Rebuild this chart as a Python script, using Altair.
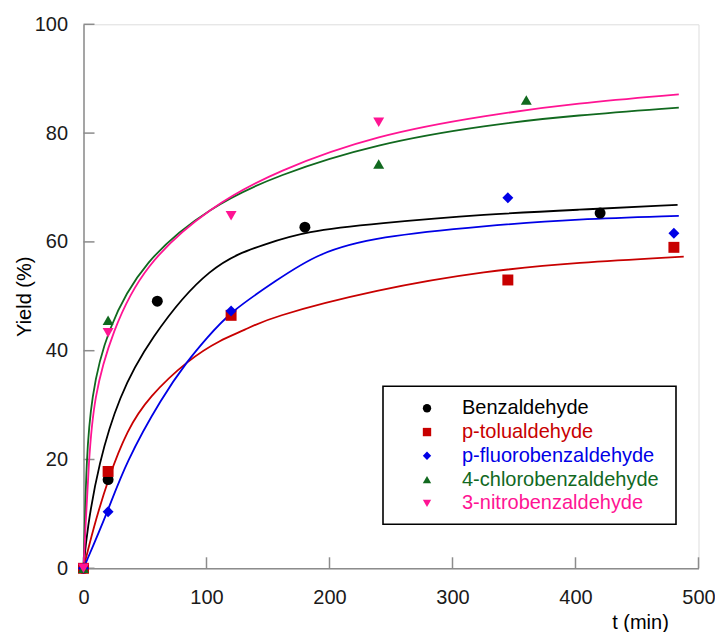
import altair as alt
import pandas as pd

# ---- series definitions ----
names = ["Benzaldehyde", "p-tolualdehyde", "p-fluorobenzaldehyde",
         "4-chlorobenzaldehyde", "3-nitrobenzaldehyde"]
colors = ["#000000", "#C80000", "#0000E6", "#11691F", "#FF1493"]
shapes = ["circle", "square", "diamond", "triangle-up", "triangle-down"]

# ---- measured points (t in min, yield in %) ----
benz_t = [0, 20, 60, 180, 420]
benz_y = [0, 16.3, 49.1, 62.7, 65.3]
tol_t = [0, 20, 120, 345, 480]
tol_y = [0, 17.8, 46.5, 53.0, 59.0]
fluo_t = [0, 20, 120, 345, 480]
fluo_y = [0, 10.4, 47.3, 68.1, 61.6]
chlo_t = [0, 20, 240, 360]
chlo_y = [0, 45.6, 74.3, 86.1]
nitr_t = [0, 20, 120, 240]
nitr_y = [0, 43.3, 64.8, 82.0]

# ---- fitted curves ----
benz_ct = [0, 2.8, 12.3, 28.6, 53, 103.1, 149.2, 179.9, 238.7, 328.2, 401.3, 483]
benz_cy = [0, 7.0, 19.3, 31.5, 42.0, 56.1, 59.7, 61.9, 63.4, 65.1, 65.9, 66.8]
tol_ct = [0, 7.5, 20.5, 35.4, 53, 85.5, 111.3, 131.6, 149.2, 238.7, 328.2, 401.3, 488]
tol_cy = [0, 7.0, 16.8, 25.4, 31.5, 38.4, 42.0, 43.8, 46.0, 51.3, 54.7, 56.2, 57.3]
fluo_ct = [0, 19.7, 34, 63.8, 85.5, 99, 119.4, 157.4, 189.9, 238.7, 328.2, 401.3, 484]
fluo_cy = [0, 10.4, 19.3, 31.5, 38.4, 42.0, 47.2, 53.0, 57.9, 61.0, 63.0, 64.2, 64.8]
chlo_ct = [0, 1.0, 2.3, 6.1, 18.6, 49, 103.1, 157.4, 238.7, 328.2, 401.3, 484]
chlo_cy = [0, 7.0, 19.3, 31.5, 43.8, 56.7, 66.5, 72.3, 78.1, 81.5, 83.3, 84.7]
nitr_ct = [0, 1.5, 4.2, 8.3, 23.2, 49, 103.1, 157.4, 238.7, 328.2, 401.3, 484]
nitr_cy = [0, 7.0, 19.3, 31.5, 43.5, 55.8, 66.5, 73.1, 79.7, 83.3, 85.5, 87.1]

x_ticks = [0, 100, 200, 300, 400, 500]
y_ticks = [0, 20, 40, 60, 80, 100]

# ---- tables ----
pts_src = [(benz_t, benz_y), (tol_t, tol_y), (fluo_t, fluo_y), (chlo_t, chlo_y), (nitr_t, nitr_y)]
crv_src = [(benz_ct, benz_cy), (tol_ct, tol_cy), (fluo_ct, fluo_cy), (chlo_ct, chlo_cy), (nitr_ct, nitr_cy)]

pts = pd.DataFrame([{"name": n, "t": t, "y": y}
                    for n, (ts, ys) in zip(names, pts_src) for t, y in zip(ts, ys)])
crv = pd.DataFrame([{"name": n, "t": t, "y": y}
                    for n, (ts, ys) in zip(names, crv_src) for t, y in zip(ts, ys)])
xt = pd.DataFrame({"t": x_ticks})
yt = pd.DataFrame({"y": y_ticks})
leg = pd.DataFrame({"name": names})

FONT = "Liberation Sans"
AX = "#8c8c8c"

xs = alt.Scale(domain=[0, 500], nice=False)
ys = alt.Scale(domain=[0, 100], nice=False)
cs = alt.Scale(domain=names, range=colors)
ss = alt.Scale(domain=names, range=shapes)

xaxis = alt.Axis(values=x_ticks, tickSize=0, grid=False, domainColor=AX, domainWidth=1.5,
                 labelFontSize=20, labelPadding=19, labelColor="#1a1a1a", labelFont=FONT,
                 labelFlush=False,
                 title="t (min)", titleFontSize=20, titleFontWeight="normal", titleFont=FONT,
                 titleX=556.5, titleY=54, titleAlign="center", titleBaseline="middle",
                 titleColor="#000000")
yaxis = alt.Axis(values=y_ticks, tickSize=0, grid=False, domainColor=AX, domainWidth=1.5,
                 labelFontSize=20, labelPadding=16, labelColor="#1a1a1a", labelFont=FONT,
                 labelFlush=False,
                 title="Yield (%)", titleFontSize=20, titleFontWeight="normal", titleFont=FONT,
                 titleX=-59, titleY=272, titleAlign="center", titleBaseline="middle",
                 titleAngle=270, titleColor="#000000")

X = alt.X("t:Q", scale=xs, axis=xaxis)
Y = alt.Y("y:Q", scale=ys, axis=yaxis)

xtick = alt.Chart(xt).mark_rule(color=AX, strokeWidth=1.5).encode(
    x=X, y=alt.value(544), y2=alt.value(533))
ytick = alt.Chart(yt).mark_rule(color=AX, strokeWidth=1.5).encode(
    y=Y, x=alt.value(0), x2=alt.value(11))

lines = alt.Chart(crv).mark_line(strokeWidth=1.8, interpolate="basis").encode(
    x=X, y=Y, color=alt.Color("name:N", scale=cs, legend=None))

points = alt.Chart(pts).mark_point(filled=True, size=120, opacity=1).encode(
    x=X, y=Y,
    color=alt.Color("name:N", scale=cs, legend=None),
    shape=alt.Shape("name:N", scale=ss, legend=None))

main = alt.layer(xtick, ytick, lines, points)

# ---- legend ----
LY = alt.Y("name:N", scale=alt.Scale(type="point", domain=names, range=[384, 479], padding=0),
           axis=None)
box = alt.Chart(pd.DataFrame({"a": [0]})).mark_rect(
    fill="white", stroke="black", strokeWidth=1.6).encode(
    x=alt.value(299.5), x2=alt.value(592.5), y=alt.value(362), y2=alt.value(500))
lsym = alt.Chart(leg).mark_point(filled=True, size=70, opacity=1).encode(
    x=alt.value(343.5), y=LY,
    color=alt.Color("name:N", scale=cs, legend=None),
    shape=alt.Shape("name:N", scale=ss, legend=None))
ltxt = alt.Chart(leg).mark_text(align="left", baseline="middle", fontSize=20, font=FONT).encode(
    x=alt.value(378.5), y=LY, text="name:N",
    color=alt.Color("name:N", scale=cs, legend=None))
legend = alt.layer(box, lsym, ltxt)

chart = alt.layer(main, legend).resolve_scale(y="independent").properties(
    width=615, height=544,
    autosize=alt.AutoSizeParams(type="none"),
    padding={"left": 75.5, "top": 16.3, "right": 16.5, "bottom": 64},
    background="white",
).configure_view(stroke=None).configure(font=FONT)

chart.save("out.html", embed_options={"renderer": "svg", "actions": False})
